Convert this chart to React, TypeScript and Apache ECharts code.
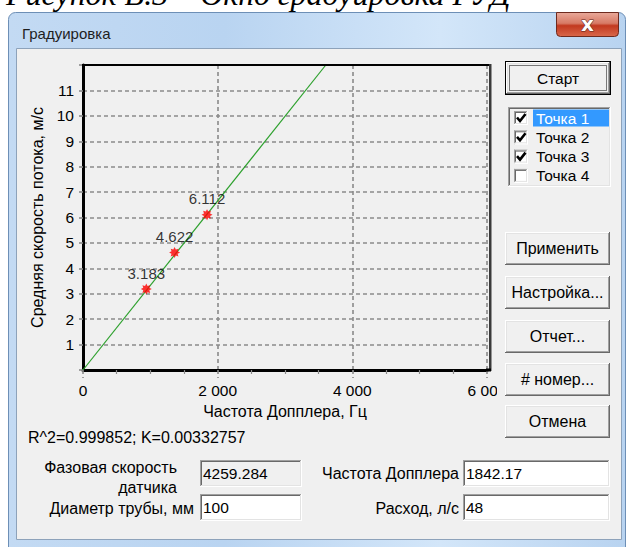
import React, { useEffect, useRef } from 'react';
import * as echarts from 'echarts';

// ---- data ----
const freqHz = [940, 1360, 1842];
const speedMs = [3.183, 4.622, 6.112];
const pointLabels = ['3.183', '4.622', '6.112'];
const fitFreq = [0, 3606];
const fitSpeed = [0, 12];
const xTickValues = [0, 2000, 4000, 6000];
const xTickLabels = ['0', '2 000', '4 000', '6 000'];
const yTickLabels = ['1', '2', '3', '4', '5', '6', '7', '8', '9', '10', '11'];
const listItems = ['Точка 1', 'Точка 2', 'Точка 3', 'Точка 4'];
const listChecked = [true, true, true, false];
const buttonLabels = ['Применить', 'Настройка...', 'Отчет...', '# номер...', 'Отмена'];
const fitText = 'R^2=0.999852; K=0.00332757';
const fieldValues = ['4259.284', '100', '1842.17', '48'];

const FONT = '"Liberation Sans", Arial, sans-serif';
const STAR = 'path://M20 10 L15.54 12.3 L17.07 17.07 L12.3 15.54 L10 20 L7.7 15.54 L2.93 17.07 L4.46 12.3 L0 10 L4.46 7.7 L2.93 2.93 L7.7 4.46 L10 0 L12.3 4.46 L17.07 2.93 L15.54 7.7 Z';

function txt(x: number, y: number, text: string, o: any = {}) {
  return { type: 'text', x, y, z: 20, silent: true, style: { text, fill: '#000', fontSize: 15, fontFamily: FONT, align: 'left', verticalAlign: 'middle', ...o } };
}
function rect(x: number, y: number, w: number, h: number, style: any, z = 20, r: any = 0) {
  return { type: 'rect', z, silent: true, shape: { x, y, width: w, height: h, r }, style };
}
function ln(x1: number, y1: number, x2: number, y2: number, stroke: string, z = 20, lineWidth = 1, lineDash?: number[]) {
  return { type: 'line', z, silent: true, shape: { x1, y1, x2, y2 }, style: { stroke, lineWidth, lineDash } };
}
function raised(x: number, y: number, w: number, h: number) {
  return [
    rect(x, y, w, h, { fill: '#f0f0f0' }),
    ln(x + 0.5, y, x + 0.5, y + h, '#ffffff'),
    ln(x, y + 0.5, x + w, y + 0.5, '#ffffff'),
    ln(x + 1.5, y + 1, x + 1.5, y + h - 1, '#e3e3e3'),
    ln(x + 1, y + 1.5, x + w - 1, y + 1.5, '#e3e3e3'),
    ln(x + w - 0.5, y, x + w - 0.5, y + h, '#696969'),
    ln(x, y + h - 0.5, x + w, y + h - 0.5, '#696969'),
    ln(x + w - 1.5, y + 1, x + w - 1.5, y + h - 1, '#a0a0a0'),
    ln(x + 1, y + h - 1.5, x + w - 1, y + h - 1.5, '#a0a0a0'),
  ];
}
function sunken(x: number, y: number, w: number, h: number, fill: string) {
  return [
    rect(x, y, w, h, { fill }),
    ln(x + 0.5, y, x + 0.5, y + h, '#a0a0a0'),
    ln(x, y + 0.5, x + w, y + 0.5, '#a0a0a0'),
    ln(x + 1.5, y + 1, x + 1.5, y + h - 1, '#696969'),
    ln(x + 1, y + 1.5, x + w - 1, y + 1.5, '#696969'),
    ln(x + w - 0.5, y, x + w - 0.5, y + h, '#ffffff'),
    ln(x, y + h - 0.5, x + w, y + h - 0.5, '#ffffff'),
    ln(x + w - 1.5, y + 1, x + w - 1.5, y + h - 1, '#e3e3e3'),
    ln(x + 1, y + h - 1.5, x + w - 1, y + h - 1.5, '#e3e3e3'),
  ];
}

function buildGraphics() {
  const g: any[] = [];
  // caption (cut off at top, as in the reference)
  g.push(txt(6, 10, 'Рисунок В.3 – Окно градуировка РУД', { fontFamily: '"Liberation Serif", serif', fontStyle: 'italic', fontSize: 32, verticalAlign: 'bottom' }));
  // window frame
  g.push(rect(8.5, 12.5, 617, 536, {
    fill: { type: 'linear', x: 0, y: 0, x2: 1, y2: 0, colorStops: [
      { offset: 0, color: '#c3daf3' }, { offset: 0.35, color: '#b9d4f1' }, { offset: 0.7, color: '#d3e6f9' }, { offset: 1, color: '#b8d3f0' }] },
    stroke: '#6d8fb6', lineWidth: 1,
  }, -10, [7, 7, 0, 0]));
  // inner panel
  g.push(rect(16.5, 48.5, 605, 491, { fill: '#f0f0f0', stroke: '#8da2ba', lineWidth: 1 }, -9));
  // title
  g.push(txt(22, 33, 'Градуировка', { fontSize: 15, fill: '#1e1e1e' }));
  // close button
  g.push(rect(556.5, 12.5, 62, 24, {
    fill: { type: 'linear', x: 0, y: 0, x2: 0, y2: 1, colorStops: [
      { offset: 0, color: '#e9a99a' }, { offset: 0.45, color: '#d77a65' }, { offset: 0.55, color: '#c2391f' }, { offset: 1, color: '#d9684b' }] },
    stroke: '#6e2a1e', lineWidth: 1,
  }, 20, [0, 0, 4, 4]));
  g.push(txt(587.5, 23.5, 'x', { fontSize: 20, fontWeight: 'bold', fill: '#ffffff', stroke: '#5a241a', lineWidth: 1, align: 'center', fontFamily: '"DejaVu Sans", sans-serif' }));

  // plot frame
  g.push(rect(82, 64, 409, 2, { fill: '#000' }, 20));
  g.push(rect(489, 64, 2.5, 307, { fill: '#3a3a3a' }, 20));
  g.push(rect(486, 368.5, 5, 3, { fill: '#000' }, 20));
  // clip of last x label
  g.push(rect(497, 376, 8, 24, { fill: '#f0f0f0' }, 20));

  // Start button (default)
  g.push(rect(505, 61, 106, 34, { fill: '#000' }));
  g.push(...raised(506, 62, 104, 32));
  g.push(rect(509.5, 65.5, 97, 25, { fill: 'none', stroke: '#000', lineWidth: 1, lineDash: [1, 1] }));
  g.push(txt(558, 78, 'Старт', { align: 'center', fontSize: 15.5 }));

  // list box
  g.push(...sunken(508, 107, 103, 80, '#f0f0f0'));
  listItems.forEach((it, i) => {
    const cy = 118 + i * 19.3;
    g.push(...sunken(514, cy - 7, 14, 14, '#ffffff'));
    if (listChecked[i]) {
      g.push({ type: 'polyline', z: 21, silent: true, shape: { points: [[517, cy - 0.5], [520, cy + 3], [525.5, cy - 4]] }, style: { stroke: '#000', lineWidth: 2.6, fill: 'none' } });
    }
    if (i === 0) g.push(rect(533, cy - 8.5, 76, 17, { fill: '#3399ff' }));
    g.push(txt(536, cy, it, { fill: i === 0 ? '#ffffff' : '#000', fontSize: 15.5 }));
  });

  // buttons
  const tops = [232, 276, 320, 363, 405];
  buttonLabels.forEach((b, i) => {
    g.push(...raised(505, tops[i], 105, 33));
    g.push(txt(557.5, tops[i] + 16.5, b, { align: 'center', fontSize: 16 }));
  });

  // bottom fields
  const F = 16;
  g.push(txt(28, 437, fitText, { fontSize: F }));
  g.push(txt(177, 467, 'Фазовая скорость', { align: 'right', fontSize: F }));
  g.push(txt(177, 487, 'датчика', { align: 'right', fontSize: F }));
  g.push(txt(194, 508, 'Диаметр трубы, мм', { align: 'right', fontSize: F }));
  g.push(txt(459, 473, 'Частота Допплера', { align: 'right', fontSize: F }));
  g.push(txt(459, 508, 'Расход, л/с', { align: 'right', fontSize: F }));
  const boxes = [[200, 460, 102, 27, '#f0f0f0'], [200, 494, 102, 27, '#ffffff'], [463, 460, 147, 27, '#ffffff'], [463, 494, 147, 27, '#ffffff']];
  boxes.forEach((b: any, i) => {
    g.push(...sunken(b[0], b[1], b[2], b[3], b[4]));
    g.push(txt(b[0] + 3, b[1] + 13.5, fieldValues[i], { fontSize: 15.5 }));
  });
  return g;
}

export default function App() {
  const ref = useRef<HTMLDivElement>(null);
  useEffect(() => {
    document.body.style.margin = '0';
    const chart = echarts.init(ref.current!, undefined, { renderer: 'svg' });
    const grid = '#8a8a8a';
    chart.setOption({
      animation: false,
      backgroundColor: '#ffffff',
      textStyle: { fontFamily: FONT },
      grid: { left: 83, top: 65, width: 404, height: 305 },
      xAxis: {
        type: 'value', min: 0, max: 6000, interval: 2000, z: 5,
        axisLine: { show: true, onZero: false, lineStyle: { color: '#000', width: 3 } },
        axisTick: { show: true, length: 8, lineStyle: { color: grid, type: [4, 3], width: 1.6 } },
        minorTick: { show: true, splitNumber: 4, length: 4, lineStyle: { color: grid, width: 1.2 } },
        splitLine: { show: true, lineStyle: { color: grid, type: [4, 3], width: 1.6 } },
        axisLabel: {
          color: '#000', fontSize: 15.5, fontFamily: FONT, margin: 12, showMaxLabel: true,
          formatter: (v: number) => { const i = xTickValues.indexOf(v); return i >= 0 ? xTickLabels[i] : ''; },
        },
        name: 'Частота Допплера, Гц', nameLocation: 'middle', nameGap: 33,
        nameTextStyle: { color: '#000', fontSize: 16, fontFamily: FONT },
      },
      yAxis: {
        type: 'value', min: 0, max: 12, interval: 1, z: 5,
        axisLine: { show: true, onZero: false, lineStyle: { color: '#000', width: 3 } },
        axisTick: { show: true, length: 5, lineStyle: { color: grid, type: [4, 3], width: 1.6 } },
        splitLine: { show: true, lineStyle: { color: grid, type: [4, 3], width: 1.6 } },
        axisLabel: {
          color: '#000', fontSize: 15.5, fontFamily: FONT, margin: 9,
          formatter: (v: number) => (v >= 1 && v <= 11 ? yTickLabels[v - 1] : ''),
        },
        name: 'Средняя скорость потока, м/с', nameLocation: 'middle', nameGap: 32, nameRotate: 90,
        nameTextStyle: { color: '#000', fontSize: 16, fontFamily: FONT },
      },
      series: [
        {
          type: 'line', z: 6, symbol: 'none', silent: true,
          data: fitFreq.map((f, i) => [f, fitSpeed[i]]),
          lineStyle: { color: '#2ca02c', width: 1.2 },
        },
        {
          type: 'scatter', z: 7, symbol: STAR, symbolSize: 11, silent: true,
          data: freqHz.map((f, i) => ({ value: [f, speedMs[i]], label: { formatter: pointLabels[i] } })),
          itemStyle: { color: '#ff0000' },
          label: { show: true, position: 'top', distance: 3, color: '#000', fontSize: 15, fontFamily: FONT },
        },
      ],
      graphic: buildGraphics(),
    });
    return () => chart.dispose();
  }, []);
  return <div ref={ref} style={{ width: 627, height: 547 }} />;
}
